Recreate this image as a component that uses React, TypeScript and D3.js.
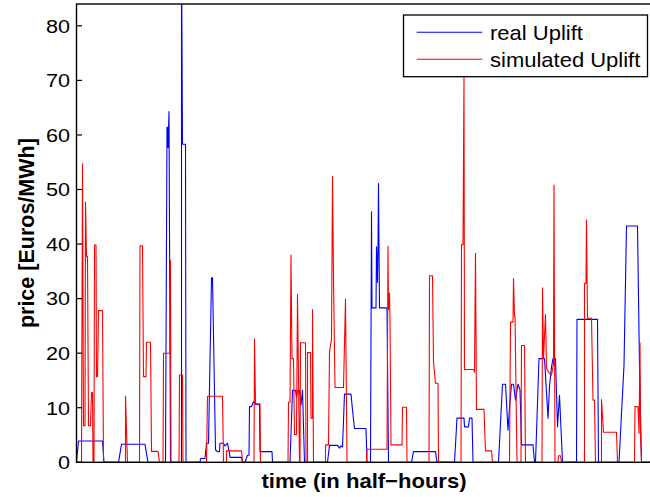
import React from "react";
import * as d3 from "d3";

// time index (half-hours) and price values
const realTimes = [0,4,52,55,84,90,137,143,178,181,183,183,185,188,210,210,212,218,219,247,248,257,260,264,270,272,278,282,286,287,294,297,302,306,307,330,332,337,342,345,346,350,354,357,366,367,391,392,427,432,438,440,442,446,449,452,456,502,506,522,526,529,532,536,549,552,556,579,581,588,590,591,599,600,602,603,604,606,621,624,670,674,718,721,756,761,775,776,784,786,791,793,844,852,858,863,866,870,874,878,883,887,890,913,916,918,925,936,943,946,950,953,958,962,966,972,1000,1001,1042,1044,1085,1095,1100,1122,1126,1130,1165];
const realValues = [0,3.9,3.9,0,0,3.3,3.3,0,0,61.4,61.4,57.7,64.3,0,0,95,58.3,58.3,0,0,0.7,0.7,3.5,3.5,33.8,33.8,2.3,1.95,1.95,3.5,3.5,3.0,3.5,1.6,0.9,0.9,0,0,1.3,1.3,10.2,10.2,11.1,10.7,10.5,1.95,1.95,0,0,13.2,13.2,12,13.2,13.2,10.5,13.2,0,0,3.1,3.1,2.6,3.0,2.8,12.5,12.5,9.6,6.2,6.2,0,0,45.9,28.3,28.3,39.5,33,39.5,51.1,28.3,28.3,0,0,1.95,1.95,0,0,8.1,8.1,6.5,6.5,8.1,8.1,0,0,14.3,14.3,5.9,10,14.3,14.3,11.4,14.3,13.3,3.2,3.2,0,0,19,19,8.1,13.9,17.5,19,19,6.5,12.3,0,0,26.2,26.2,0,0,17.8,43.3,43.3,17.5,0,0];

const simTimes = [0,10,12,14,17,18,20,22,24,28,30,32,33,35,36,39,40,42,44,52,54,98,98,102,126,127,132,134,139,140,148,150,163,166,173,174,187,188,189,205,206,212,213,260,262,292,294,300,300,330,332,355,356,358,367,368,423,424,427,429,431,434,436,440,442,446,447,448,458,459,462,462,468,469,472,472,474,498,498,504,506,510,512,514,517,534,538,541,580,581,621,623,624,626,627,629,651,652,660,661,705,706,712,714,718,723,724,769,770,773,775,776,795,796,798,800,815,818,830,832,866,868,873,874,876,877,881,889,890,896,898,931,932,934,938,940,946,950,952,954,955,957,963,964,968,970,1016,1016,1019,1020,1022,1030,1033,1036,1038,1050,1050,1054,1080,1082,1116,1117,1123,1125,1127,1128,1130,1165];
const simValues = [0,0,54.7,6.7,6.7,47.7,37.7,37.7,6.7,6.7,12.8,12.8,0,0,39.8,39.8,15.7,15.7,27.8,27.8,0,0,12.1,0,0,39.7,39.7,15.7,15.7,22,22,2.0,2.0,0,0,20,20,37,0,0,16,16,0,0,12.1,12.1,0,0,2.1,2.1,0,0,22.6,10.7,10.7,0,0,11.0,11.0,38.0,19.0,19.0,5.1,5.1,30.8,0,0,21.9,21.9,0,0,20.1,20.1,8.1,8.1,28.0,0,0,3.2,3.2,20.3,22.5,52.4,33.7,13.7,13.7,29.9,0,0,2.4,2.4,39.6,28,31,26,3.2,3.2,10.1,10.1,0,0,34.2,34.2,18.4,14.5,14.5,0,0,39.9,39.9,71,17.0,17.0,16.5,38.3,9.7,9.7,2.1,2.1,0,0,25.7,25.7,33.7,26.8,26.8,0,0,21.4,21.4,0,0,32,19,27.1,17.2,16.3,16,17,18,50.8,0,0,1.2,1.2,0,0,32.8,32.8,44.4,26.4,26.4,11.4,11.4,0,0,11.5,5.5,5.5,0,0,10.2,10.2,5.3,21.9,5.3,0,0];

const yTicks = [0, 10, 20, 30, 40, 50, 60, 70, 80];
const seriesNames = ["real Uplift", "simulated Uplift"];
const seriesColors = ["#0000ff", "#ff0000"];

const W = 650, H = 497;
const left = 76.5, right = 659, top = 4, bottom = 462.3;
const FONT = "Arial, 'Liberation Sans', Helvetica, sans-serif";

export default function App() {
  const x = d3.scaleLinear().domain([0, 1165]).range([left, right]);
  const y = d3.scaleLinear().domain([0, 84]).range([bottom, top]);
  const line = d3.line<[number, number]>().x(d => x(d[0])).y(d => y(d[1]));
  const real = realTimes.map((t, i) => [t, realValues[i]] as [number, number]);
  const sim = simTimes.map((t, i) => [t, simValues[i]] as [number, number]);
  const series = [real, sim];

  return (
    <svg width={W} height={H} style={{ position: "absolute", left: 0, top: 0, background: "#fff" }}>
      <defs>
        <clipPath id="plotclip">
          <rect x={left} y={top} width={right - left} height={bottom - top} />
        </clipPath>
      </defs>
      <rect x={0} y={0} width={W} height={H} fill="#fff" />
      <g clipPath="url(#plotclip)">
        {series.map((s, i) => (
          <path key={i} d={line(s) || ""} fill="none" stroke={seriesColors[i]} strokeWidth={1.1} strokeLinejoin="round" />
        ))}
      </g>
      {/* axes box */}
      <rect x={left} y={top} width={right - left} height={bottom - top} fill="none" stroke="#000" strokeWidth={1.4} />
      {yTicks.map(t => (
        <g key={t}>
          <line x1={left} x2={left + 5.5} y1={y(t)} y2={y(t)} stroke="#000" strokeWidth={1.2} />
          <line x1={right} x2={right - 5.5} y1={y(t)} y2={y(t)} stroke="#000" strokeWidth={1.2} />
          <text transform={`translate(70,${y(t)}) scale(1.14,1)`} dy="0.36em" textAnchor="end" fontFamily={FONT} fontSize={19} fill="#000">{t}</text>
        </g>
      ))}
      <text transform={`translate(364,488) scale(1.05,1)`} textAnchor="middle" fontFamily={FONT} fontSize={21} fontWeight="bold" fill="#000">time (in half−hours)</text>
      <text transform={`translate(34,${(top + bottom) / 2}) rotate(-90)`} textAnchor="middle" fontFamily={FONT} fontSize={21.5} fontWeight="bold" fill="#000">price [Euros/MWh]</text>
      {/* legend */}
      <rect x={403.5} y={15} width={244} height={61.7} fill="#fff" stroke="#000" strokeWidth={1.3} />
      {seriesNames.map((n, i) => (
        <g key={n}>
          <line x1={416.7} x2={482.3} y1={32.3 + i * 27} y2={32.3 + i * 27} stroke={seriesColors[i]} strokeWidth={1.1} />
          <text transform={`translate(490,${32.3 + i * 27}) scale(1.1,1)`} dy="0.36em" fontFamily={FONT} fontSize={20} fill="#000">{n}</text>
        </g>
      ))}
    </svg>
  );
}
